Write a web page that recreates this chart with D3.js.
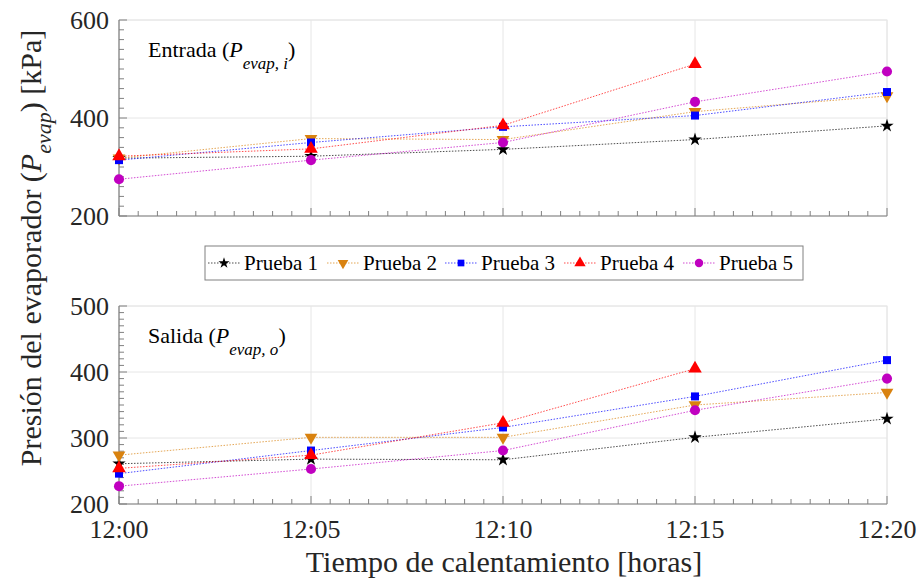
<!DOCTYPE html>
<html><head><meta charset="utf-8">
<script src="https://cdn.jsdelivr.net/npm/d3@7/dist/d3.min.js"></script>
<style>body{margin:0;background:#fff;}</style>
</head><body><svg id="c" width="922" height="580"></svg>
<script>
const times = ["12:00","12:05","12:10","12:15","12:20"];
const series = ["Prueba 1","Prueba 2","Prueba 3","Prueba 4","Prueba 5"];
const entrada = [
  [318, 322, 336, 356, 384],
  [318, 358, 356, 413, 445],
  [314, 350, 382, 405, 453],
  [322, 337, 385, 510, null],
  [275, 314, 350, 433, 495]
];
const salida = [
  [261, 268, 267, 301, 329],
  [274, 301, 301, 350, 369],
  [246, 281, 316, 363, 418],
  [254, 274, 323, 405, null],
  [227, 253, 281, 342, 390]
];
const topTicks = [200, 400, 600];
const botTicks = [200, 300, 400, 500];
const colors = ["#000000","#D9820F","#0000FF","#FF0000","#C000C0"];
const shapes = [d3.symbolStar, d3.symbolTriangle, d3.symbolSquare, d3.symbolTriangle, d3.symbolCircle];
const sizes = [55, 70, 64, 80, 80];
const rot = [0, 180, 0, 0, 0];
const FONT = "'Liberation Serif'";

const svg = d3.select("#c");
const x = d3.scalePoint().domain(times).range([119, 887]);
const xi = d3.scaleLinear().domain([0, 20]).range([119, 887]);

function txt(sel) { return sel.append("text").style("font-family", FONT); }

function panel(data, yDom, yRange, ticks, minorStep, showX, label, sub) {
  const y = d3.scaleLinear().domain(yDom).range(yRange);
  const g = svg.append("g");
  g.append("rect").attr("x", 119).attr("y", yRange[1]).attr("width", 768).attr("height", yRange[0]-yRange[1])
    .attr("fill", "none").attr("stroke", "#e8e8e8").attr("stroke-width", 1);
  times.forEach(t => g.append("line").attr("x1", x(t)).attr("x2", x(t)).attr("y1", yRange[0]).attr("y2", yRange[1]).attr("stroke", "#e6e6e6"));
  ticks.forEach(v => g.append("line").attr("x1", 119).attr("x2", 887).attr("y1", y(v)).attr("y2", y(v)).attr("stroke", "#e6e6e6"));
  d3.range(0, 20.01, 0.5).forEach(m => {
    const major = Math.abs(m % 5) < 1e-6;
    g.append("line").attr("x1", xi(m)).attr("x2", xi(m)).attr("y1", yRange[0]).attr("y2", yRange[0] - (major ? 8 : 5)).attr("stroke", "#808080");
  });
  d3.range(yDom[0], yDom[1] + 0.01, minorStep).forEach(v => {
    const major = ticks.includes(v);
    g.append("line").attr("x1", 119).attr("x2", 119 + (major ? 8 : 5)).attr("y1", y(v)).attr("y2", y(v)).attr("stroke", "#808080");
  });
  g.append("line").attr("x1", 119).attr("x2", 887).attr("y1", yRange[0]).attr("y2", yRange[0]).attr("stroke", "#808080").attr("stroke-width", 1.2);
  g.append("line").attr("x1", 119).attr("x2", 119).attr("y1", yRange[0]).attr("y2", yRange[1]).attr("stroke", "#808080").attr("stroke-width", 1.2);
  ticks.forEach(v => txt(g).attr("x", 109).attr("y", y(v)).attr("dy", "0.35em").attr("text-anchor", "end")
    .attr("font-size", 26).attr("fill", "#262626").text(v));
  if (showX) {
    times.forEach(t => txt(g).attr("x", x(t)).attr("y", yRange[0] + 34).attr("text-anchor", "middle")
      .attr("font-size", 26).attr("fill", "#262626").text(t));
  }
  const line = d3.line().defined(d => d.v != null).x(d => x(d.t)).y(d => y(d.v));
  data.forEach((s, i) => {
    const pts = s.map((v, j) => ({t: times[j], v}));
    g.append("path").datum(pts).attr("d", line).attr("fill", "none").attr("stroke", colors[i])
      .attr("stroke-width", 1).attr("stroke-dasharray", "1.5,1.5").attr("opacity", 0.7);
  });
  data.forEach((s, i) => {
    s.forEach((v, j) => {
      if (v == null) return;
      g.append("path").attr("d", d3.symbol().type(shapes[i]).size(sizes[i])())
        .attr("transform", `translate(${x(times[j])},${y(v)}) rotate(${rot[i]})`).attr("fill", colors[i]);
    });
  });
  const t = txt(g).attr("x", 148).attr("y", yRange[1] + 37).attr("font-size", 22).attr("fill", "#000");
  t.append("tspan").text(label + " (");
  t.append("tspan").attr("font-style", "italic").text("P");
  t.append("tspan").attr("font-style", "italic").attr("font-size", 17).attr("dy", 12).text(sub);
  t.append("tspan").attr("dy", -12).text(")");
}

panel(entrada, [200, 600], [216, 20], topTicks, 20, false, "Entrada", "evap, i");
panel(salida, [200, 500], [504, 306], botTicks, 10, true, "Salida", "evap, o");

const lg = svg.append("g");
lg.append("rect").attr("x", 205).attr("y", 246).attr("width", 598).attr("height", 34).attr("fill", "#fff").attr("stroke", "#808080");
const lx = [208, 327, 445, 564, 683];
series.forEach((s, i) => {
  lg.append("line").attr("x1", lx[i]).attr("x2", lx[i] + 32).attr("y1", 263).attr("y2", 263).attr("stroke", colors[i])
    .attr("stroke-dasharray", "1.5,1.5").attr("opacity", 0.7);
  lg.append("path").attr("d", d3.symbol().type(shapes[i]).size(sizes[i] * 0.7)())
    .attr("transform", `translate(${lx[i] + 16},263) rotate(${rot[i]})`).attr("fill", colors[i]);
  txt(lg).attr("x", lx[i] + 36).attr("y", 263).attr("dy", "0.35em").attr("font-size", 21).text(s);
});

txt(svg).attr("x", 504).attr("y", 572).attr("text-anchor", "middle").attr("font-size", 30).attr("fill", "#262626")
  .text("Tiempo de calentamiento [horas]");
const yl = txt(svg).attr("transform", "translate(41,248) rotate(-90)").attr("text-anchor", "middle")
  .attr("font-size", 30).attr("fill", "#262626");
yl.append("tspan").text("Presión del evaporador (");
yl.append("tspan").attr("font-style", "italic").text("P");
yl.append("tspan").attr("font-style", "italic").attr("font-size", 22).attr("dy", 10).text("evap");
yl.append("tspan").attr("dy", -10).text(") [kPa]");
</script></body></html>
